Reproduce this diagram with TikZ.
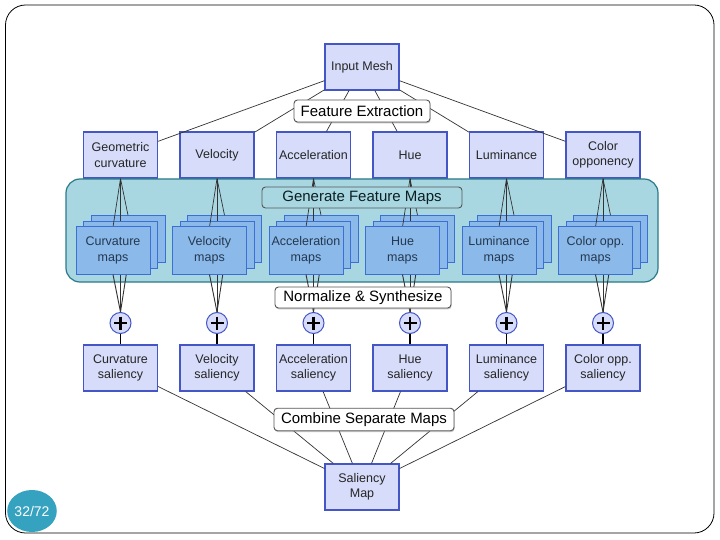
\documentclass[tikz,border=0pt]{standalone}
\usepackage{fontspec}
\setmainfont{Liberation Sans}
\usetikzlibrary{shadows,shapes.geometric}
\definecolor{boxfill}{HTML}{D6DCF9}
\definecolor{boxborder}{HTML}{4456C6}
\definecolor{tealfill}{HTML}{A8D7E2}
\definecolor{tealborder}{HTML}{2B7A8A}
\definecolor{mapfill}{HTML}{8BB9EA}
\definecolor{mapborder}{HTML}{3C6FD4}
\definecolor{pagefill}{HTML}{35A2C0}
\definecolor{maptext}{HTML}{24384F}
\definecolor{lblborder}{HTML}{555555}
\tikzset{
  x=1pt, y=-1pt,
  box/.style={draw=boxborder, fill=boxfill, line width=1.2pt, minimum width=74pt, minimum height=46pt,
    inner sep=0pt, align=center, text=black!85, font=\fontsize{12.5}{15.5}\selectfont},
  mapbox/.style={draw=mapborder, fill=mapfill, line width=1pt, minimum width=74pt, minimum height=47pt,
    inner sep=0pt, align=center, text=maptext, font=\fontsize{12.5}{15.5}\selectfont},
  lbl/.style={draw=lblborder, fill=white, rounded corners=3.5pt, line width=0.9pt, inner sep=0pt,
    minimum height=22pt, font=\fontsize{15}{18}\selectfont, text=black,
    drop shadow={shadow xshift=0.6pt, shadow yshift=-1.4pt, fill=black!45}},
  glbl/.style={draw=lblborder, fill=tealfill, rounded corners=3.5pt, line width=0.9pt, inner sep=0pt,
    minimum height=21pt, font=\fontsize{15}{18}\selectfont, text=black!75!tealborder},
  conn/.style={draw=black!80, line width=0.7pt},
  thickconn/.style={draw=black, line width=1.6pt},
  plusnode/.style={circle, draw=boxborder, fill=boxfill, line width=1pt, minimum size=21pt, inner sep=0pt},
}
\begin{document}
\begin{tikzpicture}
\useasboundingbox (0,0) rectangle (720,540);
\fill[white] (0,0) rectangle (720,540);
\node[draw=black, line width=0.8pt, rounded corners=20pt, minimum width=708.5pt, minimum height=528pt, inner sep=0pt] (frame) at (359.75,269) {};

% top part
\node[box] (im) at (362,67) {Input Mesh};
\node[box] (f1) at (120.5,155) {Geometric\\curvature};
\node[box] (f2) at (217,155) {Velocity};
\node[box] (f3) at (313.5,155) {Acceleration};
\node[box] (f4) at (410,155) {Hue};
\node[box] (f5) at (506.5,155) {Luminance};
\node[box] (f6) at (603,155) {Color\\opponency};
\foreach \i in {1,...,6} \draw[conn] (im) -- (f\i);
\node[lbl, minimum width=136pt] (fe) at (362,111) {Feature Extraction};

% feature maps area
\node[draw=tealborder, fill=tealfill, line width=1.2pt, rounded corners=14pt, minimum width=592pt, minimum height=103pt, inner sep=0pt] (gfm) at (362,230.5) {};

\foreach \i/\cx in {1/120.5,2/217,3/313.5,4/410,5/506.5,6/603} {
  \node[mapbox] (b\i) at (\cx+7.5,239.2) {};
  \node[mapbox] (m\i) at (\cx,245.2) {};
  \node[plusnode] (p\i) at (\cx,323) {};
  \draw[black, line width=2.4pt] (\cx-6.5,323) -- (\cx+6.5,323) (\cx,316.5) -- (\cx,329.5);
  \coordinate (t\i) at (\cx-7.5,227);
}
\foreach \i in {1,...,6} {
  \draw[conn] (f\i.south) -- (b\i.north);
  \draw[conn] (f\i.south) -- (m\i.north);
  \draw[conn] (f\i.south) -- (t\i);
  \draw[conn, line width=0.9pt] (b\i.south) -- (p\i.north);
  \draw[conn, line width=0.9pt] (m\i.south) -- (p\i.north);
}
\node[mapbox] (a1) at (113,250.5) {Curvature\\maps};
\node[mapbox] (a2) at (209.5,250.5) {Velocity\\maps};
\node[mapbox] (a3) at (306,250.5) {Acceleration\\maps};
\node[mapbox] (a4) at (402.5,250.5) {Hue\\maps};
\node[mapbox] (a5) at (499,250.5) {Luminance\\maps};
\node[mapbox] (a6) at (595.5,250.5) {Color opp.\\maps};
\foreach \i in {1,...,6} \draw[conn, line width=0.9pt] (a\i.south) -- (p\i.north);

\node[glbl, minimum width=200pt] (gl) at (362,197.5) {Generate Feature Maps};
\node[lbl, minimum width=176pt, minimum height=21pt] (ns) at (363,297.5) {Normalize \& Synthesize};

% saliency
\node[box] (s1) at (120.5,368) {Curvature\\saliency};
\node[box] (s2) at (217,368) {Velocity\\saliency};
\node[box] (s3) at (313.5,368) {Acceleration\\saliency};
\node[box] (s4) at (410,368) {Hue\\saliency};
\node[box] (s5) at (506.5,368) {Luminance\\saliency};
\node[box] (s6) at (603,368) {Color opp.\\saliency};
\node[box] (sm) at (362,487) {Saliency\\Map};
\foreach \i in {1,...,6} {
  \draw[thickconn] (p\i.south) -- (s\i.north);
  \draw[conn] (s\i) -- (sm);
}
\node[lbl, minimum width=180pt, minimum height=22.5pt] (cs) at (364,419.5) {Combine Separate Maps};

% page number
\node[ellipse, fill=pagefill, minimum width=44pt, minimum height=42pt, inner sep=0pt, text=white, font=\fontsize{14}{16}\selectfont] (pg) at (32,511) {32/72};
\end{tikzpicture}
\end{document}
